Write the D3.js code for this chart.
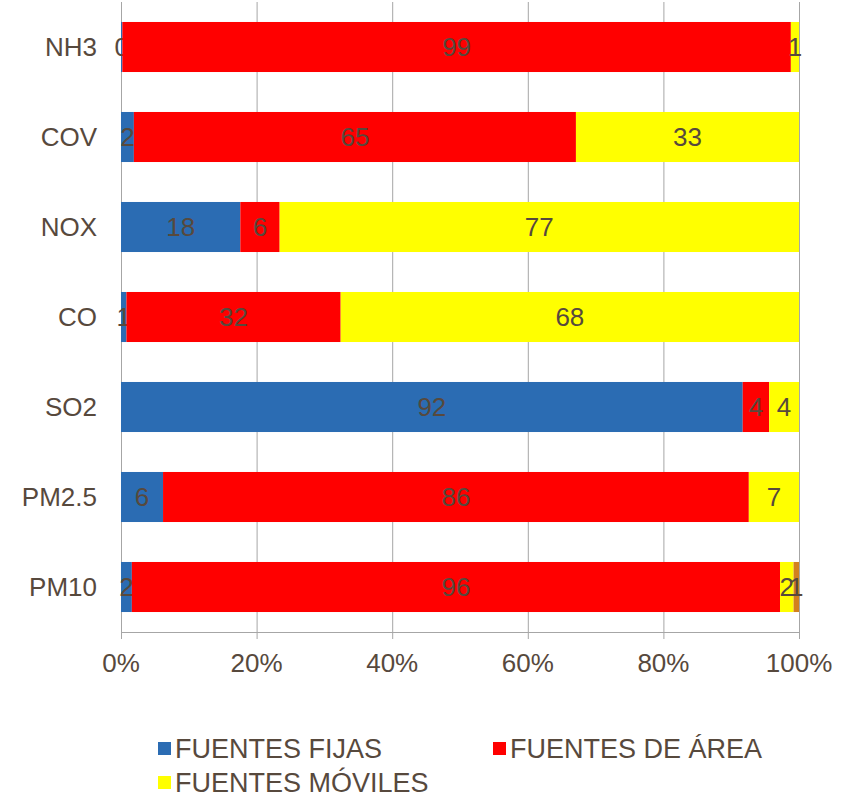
<!DOCTYPE html>
<html>
<head>
<meta charset="utf-8">
<script src="https://cdn.jsdelivr.net/npm/d3@7"></script>
<style>
body { margin: 0; background: #fff; }
text { font-family: "Liberation Sans", Arial, sans-serif; }
</style>
</head>
<body>
<script>
var categories = ["NH3", "COV", "NOX", "CO", "SO2", "PM2.5", "PM10"];
var fijas   = [0.2, 1.9, 17.6, 0.8, 91.7, 6.2, 1.6];
var area    = [98.6, 65.2, 5.8, 31.6, 3.9, 86.4, 95.6];
var moviles = [1.2, 32.9, 76.6, 67.6, 4.4, 7.4, 2.0];
var otras   = [0, 0, 0, 0, 0, 0, 0.8];
var ticks = [0, 20, 40, 60, 80, 100];
var colors = ["#2B6CB3", "#FF0000", "#FFFF00", "#D2801E"];
var legendNames = ["FUENTES FIJAS", "FUENTES DE ÁREA", "FUENTES MÓVILES"];

var width = 848, height = 797;
var marginLeft = 121, marginTop = 2;
var plotW = 678, plotH = 630;
var textColor = "#57493d";

var svg = d3.select("body").append("svg")
    .attr("width", width)
    .attr("height", height);

var g = svg.append("g")
    .attr("transform", "translate(" + marginLeft + "," + marginTop + ")");

var rows = categories.map(function (c, i) {
    return { cat: c, fijas: fijas[i], area: area[i], moviles: moviles[i], otras: otras[i] };
});
var keys = ["fijas", "area", "moviles", "otras"];
var stacked = d3.stack().keys(keys)(rows);

var xScale = d3.scaleLinear().domain([0, 100]).range([0, plotW]);
var yScale = d3.scaleBand().domain(categories).range([0, plotH])
    .paddingInner(0.444).paddingOuter(0.222);

// gridlines
g.selectAll(".grid")
    .data(ticks)
    .enter().append("line")
    .attr("x1", d => xScale(d) + 0.5)
    .attr("x2", d => xScale(d) + 0.5)
    .attr("y1", 0)
    .attr("y2", plotH + 7)
    .attr("stroke", "#a6a6a6")
    .attr("stroke-width", 1);

// bottom axis line
g.append("line")
    .attr("x1", 0).attr("x2", plotW)
    .attr("y1", plotH + 0.5).attr("y2", plotH + 0.5)
    .attr("stroke", "#a6a6a6");

// bars
var layer = g.selectAll(".layer")
    .data(stacked)
    .enter().append("g")
    .attr("fill", (d, i) => colors[i]);

layer.selectAll("rect")
    .data(d => d)
    .enter().append("rect")
    .attr("x", d => xScale(d[0]))
    .attr("y", d => yScale(d.data.cat))
    .attr("width", d => xScale(d[1]) - xScale(d[0]))
    .attr("height", yScale.bandwidth());

// labels (the 4th series only where it has a value)
var fmt = d3.format(".0f");
layer.selectAll("text")
    .data(d => d.filter(p => d.key != "otras" || p[1] - p[0] > 0))
    .enter().append("text")
    .attr("x", d => xScale((d[0] + d[1]) / 2))
    .attr("y", d => yScale(d.data.cat) + yScale.bandwidth() / 2 + 9)
    .attr("text-anchor", "middle")
    .attr("fill", textColor)
    .attr("font-size", "26px")
    .text(d => fmt(d[1] - d[0]));

// category labels
g.selectAll(".cat")
    .data(categories)
    .enter().append("text")
    .attr("x", -24)
    .attr("y", d => yScale(d) + yScale.bandwidth() / 2 + 9)
    .attr("text-anchor", "end")
    .attr("fill", textColor)
    .attr("font-size", "26px")
    .text(d => d);

// tick labels
g.selectAll(".tick")
    .data(ticks)
    .enter().append("text")
    .attr("x", d => xScale(d))
    .attr("y", plotH + 40)
    .attr("text-anchor", "middle")
    .attr("fill", textColor)
    .attr("font-size", "26px")
    .text(d => d + "%");

// legend
var legendPos = [[158, 748], [493, 748], [158, 782]];
var legend = svg.selectAll(".legend")
    .data(legendNames)
    .enter().append("g")
    .attr("transform", (d, i) => "translate(" + legendPos[i][0] + "," + legendPos[i][1] + ")");

legend.append("rect")
    .attr("x", 0).attr("y", -6)
    .attr("width", 13).attr("height", 13)
    .attr("fill", (d, i) => colors[i]);

legend.append("text")
    .attr("x", 17)
    .attr("y", 10)
    .attr("fill", textColor)
    .attr("font-size", "27px")
    .text(d => d);
</script>
</body>
</html>
